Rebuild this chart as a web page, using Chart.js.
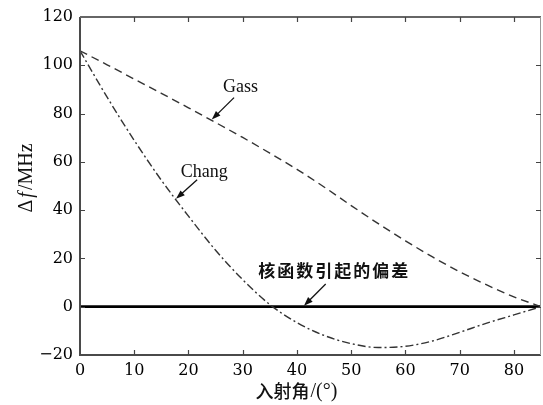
<!DOCTYPE html>
<html><head><meta charset="utf-8">
<script src="https://cdn.jsdelivr.net/npm/chart.js@4/dist/chart.umd.min.js"></script>
<style>html,body{margin:0;padding:0;background:#fff}#wrap{width:543px;height:405px;position:relative}</style>
</head><body><div id="wrap"><canvas id="c"></canvas></div>
<script>
// incidence angle (degrees)
const angles = [0,5,10,15,20,25,30,35,40,45,50,55,60,65,70,75,80,85];
// frequency deviation (MHz)
const gass = [106,100.2,94.3,88.4,82.4,76.3,70.1,63.6,56.9,49.6,41.9,34.4,27.3,20.6,14.5,9.0,4.1,0];
const chang = [106,86.8,68.9,52.4,37.5,23.4,11.2,0.9,-6.6,-11.9,-15.3,-16.9,-16.4,-14.2,-10.6,-6.8,-3.4,0];
const kernelBias = [0,0,0,0,0,0,0,0,0,0,0,0,0,0,0,0,0,0];
const xTicks = [0,10,20,30,40,50,60,70,80];
const yTicks = [-20,0,20,40,60,80,100,120];
const labels = {gass:'Gass', chang:'Chang', kernel:'核函数引起的偏差', xTitle:'入射角', xUnit:'/(°)', yTitle:['Δ','f','/MHz']};

const pts = ys => angles.map((a,i)=>({x:a,y:ys[i]}));

const decor = {
  id:'decor',
  afterDraw(chart, args, opts){
    const ctx = chart.ctx, a = chart.chartArea, xs = chart.scales.x, ys = chart.scales.y;
    ctx.save();
    // box
    ctx.strokeStyle = '#4a4a4a'; ctx.lineWidth = 2;
    ctx.beginPath();
    ctx.moveTo(a.left, a.top); ctx.lineTo(a.left, a.bottom); ctx.lineTo(a.right, a.bottom);
    ctx.stroke();
    ctx.strokeStyle = '#666'; ctx.lineWidth = 2;
    ctx.beginPath(); ctx.moveTo(a.left, a.top); ctx.lineTo(a.right, a.top); ctx.stroke();
    ctx.strokeStyle = '#999'; ctx.lineWidth = 1;
    ctx.beginPath(); ctx.moveTo(a.right-0.5, a.top); ctx.lineTo(a.right-0.5, a.bottom); ctx.stroke();
    // inward ticks
    ctx.strokeStyle = '#444'; ctx.lineWidth = 1.2;
    ctx.beginPath();
    xTicks.forEach(v=>{ const px = Math.round(xs.getPixelForValue(v))+0.5;
      if (v===0) return;
      ctx.moveTo(px, a.bottom); ctx.lineTo(px, a.bottom-5);
      ctx.moveTo(px, a.top); ctx.lineTo(px, a.top+5); });
    yTicks.forEach(v=>{ const py = Math.round(ys.getPixelForValue(v))+0.5;
      if (v===-20 || v===120) return;
      ctx.moveTo(a.left, py); ctx.lineTo(a.left+5, py);
      ctx.moveTo(a.right, py); ctx.lineTo(a.right-5, py); });
    ctx.stroke();
    // annotations
    (opts.notes||[]).forEach(n=>{
      ctx.font = n.font; ctx.fillStyle = '#111'; ctx.textAlign='center'; ctx.textBaseline='middle';
      if (n.spacing) ctx.letterSpacing = n.spacing;
      ctx.fillText(n.text, xs.getPixelForValue(n.x), ys.getPixelForValue(n.y));
      ctx.letterSpacing = '0px';
      const x1 = xs.getPixelForValue(n.arrow[0]), y1 = ys.getPixelForValue(n.arrow[1]);
      const x2 = xs.getPixelForValue(n.arrow[2]), y2 = ys.getPixelForValue(n.arrow[3]);
      const ang = Math.atan2(y2-y1, x2-x1);
      ctx.strokeStyle = '#111'; ctx.lineWidth = 1.3;
      ctx.beginPath(); ctx.moveTo(x1,y1); ctx.lineTo(x2-6*Math.cos(ang), y2-6*Math.sin(ang)); ctx.stroke();
      ctx.beginPath();
      ctx.moveTo(x2,y2);
      ctx.lineTo(x2-9*Math.cos(ang)+3.2*Math.sin(ang), y2-9*Math.sin(ang)-3.2*Math.cos(ang));
      ctx.lineTo(x2-9*Math.cos(ang)-3.2*Math.sin(ang), y2-9*Math.sin(ang)+3.2*Math.cos(ang));
      ctx.closePath(); ctx.fill();
    });
    // x title
    ctx.fillStyle = '#111'; ctx.textBaseline='middle'; ctx.textAlign='left';
    const f1 = '500 18px "Noto Sans CJK SC"', f2 = '20px "Liberation Serif"';
    ctx.font = f1; const w1 = ctx.measureText(labels.xTitle).width;
    ctx.font = f2; const w2 = ctx.measureText(labels.xUnit).width;
    let sx = 296 - (w1+w2)/2;
    ctx.font = f1; ctx.fillText(labels.xTitle, sx, 391);
    ctx.font = f2; ctx.fillText(labels.xUnit, sx+w1+1, 392);
    // y title
    ctx.translate(27, 178); ctx.rotate(-Math.PI/2);
    const fonts = ['20px "Liberation Serif"','italic 20px "Liberation Serif"','20px "Liberation Serif"'];
    const ws = labels.yTitle.map((t,i)=>{ctx.font=fonts[i]; return ctx.measureText(t).width;});
    let cx = -(ws.reduce((p,c)=>p+c,0)+4)/2;
    labels.yTitle.forEach((t,i)=>{ ctx.font=fonts[i]; ctx.fillText(t, cx, 0); cx += ws[i] + (i<2?2:0); });
    ctx.restore();
  }
};

new Chart(document.getElementById('c'), {
  type:'line',
  data:{ datasets:[
    {label:labels.gass, data:pts(gass), borderColor:'#333', borderWidth:1.4, borderDash:[8,5], pointRadius:0, cubicInterpolationMode:'monotone', fill:false},
    {label:labels.chang, data:pts(chang), borderColor:'#333', borderWidth:1.4, borderDash:[8,3,2,3], pointRadius:0, cubicInterpolationMode:'monotone', fill:false},
    {label:labels.kernel, data:pts(kernelBias), borderColor:'#000', borderWidth:2.8, pointRadius:0, fill:false}
  ]},
  options:{
    responsive:true, maintainAspectRatio:false, animation:false,
    layout:{padding:{top:17,right:2,left:0,bottom:0}},
    plugins:{legend:{display:false}, tooltip:{enabled:false},
      decor:{notes:[
        {text:labels.gass, x:29.6, y:90.7, font:'18px "Liberation Serif"', arrow:[28.4,86.6,24.3,77.5]},
        {text:labels.chang, x:22.9, y:55.5, font:'18px "Liberation Serif"', arrow:[21.6,52.6,17.7,44.7]},
        {text:labels.kernel, x:46.9, y:14.9, font:'600 17px "Noto Sans CJK SC"', spacing:'2px', arrow:[45.3,9.4,41.3,0.4]}
      ]}},
    scales:{
      x:{type:'linear', min:0, max:85,
        grid:{display:false, drawTicks:false}, border:{display:false},
        afterBuildTicks:s=>{ s.ticks = xTicks.map(v=>({value:v})); },
        afterFit:s=>{ s.height = 50; },
        ticks:{padding:6, color:'#000', font:{family:'"DejaVu Serif"', size:16}, maxRotation:0, autoSkip:false}},
      y:{type:'linear', min:-20, max:120,
        grid:{display:false, drawTicks:false}, border:{display:false},
        afterBuildTicks:s=>{ s.ticks = yTicks.map(v=>({value:v})); },
        afterFit:s=>{ s.width = 80; },
        ticks:{padding:7, color:'#000', font:{family:'"DejaVu Serif"', size:16},
          callback:v=> String(v).replace('-', '\u2212')}}
    }
  },
  plugins:[decor]
});
</script></body></html>
